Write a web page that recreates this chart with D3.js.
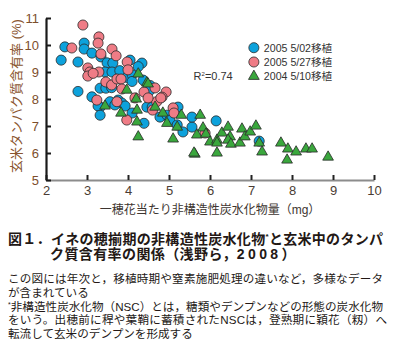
<!DOCTYPE html>
<html>
<head>
<meta charset="utf-8">
<script src="https://cdn.jsdelivr.net/npm/d3@7"></script>
<style>
  body { margin: 0; background: #fff; }
  svg  { display: block; }
  .tick text  { font-family: "Liberation Sans", Arial, sans-serif; font-size: 13px; }
  .y.axis text { fill: #7d4e2c; }
  .x.axis text { fill: #4a3c33; }
  .jp  { font-family: "Liberation Sans", "Noto Sans CJK JP", sans-serif; }
</style>
</head>
<body>
<div id="graph"></div>
<script>

// 
// Data...
// 
var xTicks = [2, 3, 4, 5, 6, 7, 8, 9, 10];
var yTicks = [5, 6, 7, 8, 9, 10, 11];

var seriesNames  = ['2005 5/02移植', '2005 5/27移植', '2004 5/10移植'];
var seriesColors = ['#0da2dc', '#ef7c86', '#3aa73d'];

// [NSC mg per spikelet, protein %]
var may02 = [
    [2.37, 9.44], [2.46, 9.93], [2.78, 9.37], [2.78, 8.28], [2.93, 10.07], [2.93, 9.85],
    [3.12, 9.70], [3.12, 8.08], [3.34, 9.56], [3.49, 9.34], [3.63, 9.33], [3.44, 9.00],
    [3.61, 9.00], [3.32, 8.40], [3.46, 8.40], [3.60, 8.42], [3.97, 8.80], [4.10, 8.90],
    [4.05, 9.44], [4.34, 9.33], [4.25, 9.20], [4.37, 8.70], [4.54, 8.50], [4.54, 8.33],
    [3.32, 7.70], [3.27, 7.74], [3.56, 7.90], [3.76, 7.96], [3.85, 7.85], [3.93, 7.74],
    [4.46, 7.70], [4.59, 7.70], [5.22, 7.70], [3.32, 7.40], [3.68, 7.78], [4.10, 7.48],
    [4.39, 7.10], [4.78, 7.33], [4.95, 7.40], [5.02, 7.22], [5.20, 7.04], [5.34, 6.78],
    [5.56, 6.96], [5.56, 7.33], [6.15, 7.19], [7.20, 6.44], [4.10, 8.65], [3.80, 9.05]
];

var may27 = [
    [2.90, 10.74], [2.63, 9.89], [3.29, 10.30], [3.27, 10.07], [3.34, 9.67], [3.61, 9.85],
    [3.71, 9.60], [3.98, 9.37], [3.02, 9.15], [3.07, 9.00], [3.02, 8.85], [3.29, 9.00],
    [3.15, 8.95], [3.46, 8.63], [3.60, 8.52], [3.73, 8.74], [3.83, 8.74], [3.85, 8.37],
    [4.39, 8.26], [4.66, 8.41], [4.93, 8.26], [4.83, 8.07], [4.70, 7.90], [3.24, 7.96],
    [3.73, 7.90], [5.10, 7.67], [5.12, 7.48], [4.17, 8.04], [3.97, 7.22], [4.49, 8.04],
    [4.80, 8.04], [4.60, 7.59], [5.88, 6.74], [4.00, 9.08]
];

var may10 = [
    [4.25, 8.93], [4.46, 8.60], [3.97, 8.33], [4.20, 8.00], [3.44, 7.74], [3.83, 7.48],
    [4.22, 7.59], [4.22, 7.15], [4.25, 6.60], [4.66, 7.70], [4.85, 7.48], [4.95, 7.10],
    [5.10, 6.52], [5.20, 6.96], [5.30, 7.40], [5.68, 6.67], [5.63, 5.96], [5.76, 7.40],
    [5.83, 6.93], [5.90, 6.70], [6.00, 6.41], [6.17, 6.48], [6.17, 6.37], [6.17, 6.00],
    [6.29, 6.74], [6.44, 6.96], [6.49, 6.60], [6.44, 6.48], [6.51, 6.33], [6.73, 6.37],
    [6.78, 6.89], [6.85, 6.60], [6.98, 6.78], [7.12, 7.00], [7.20, 6.37], [7.27, 6.04],
    [7.73, 6.37], [7.90, 6.15], [7.88, 5.74], [8.10, 6.04], [8.34, 6.15], [8.49, 6.15],
    [8.88, 5.85], [4.49, 8.56], [5.61, 6.00]
];

var r2Text = ['R', '2', '=0.74'];

var xLabel = '一穂花当たり非構造性炭水化物量（mg）';
var yLabel = '玄米タンパク質含有率 (%)';

var captionLine1 = ['図１．イネの穂揃期の非構造性炭水化物', '*', 'と玄米中のタンパ'];
var captionLine2 = ['ク質含有率の関係（浅野ら，', '2008', '）'];

var noteLines = [
    ['', 'この図には年次と，移植時期や窒素施肥処理の違いなど，多様なデータ'],
    ['', 'が含まれている'],
    ['*', '非構造性炭水化物（NSC）とは，糖類やデンプンなどの形態の炭水化物'],
    ['', 'をいう。出穂前に稈や葉鞘に蓄積されたNSCは，登熟期に穎花（籾）へ'],
    ['', '転流して玄米のデンプンを形成する']
];


//
// D3 Stuff...
//
var W = 406, H = 350;

var xScale = d3.scaleLinear ()
               .domain ([2, 10])
               .range ([46, 374]);

var yScale = d3.scaleLinear ()
               .domain ([5, 11])
               .range ([180, 18]);

var svg = d3.select ('div#graph')
            .append ('svg')
            .attr ('width', W)
            .attr ('height', H);

svg.append ('rect')
   .attr ('width', W)
   .attr ('height', H)
   .attr ('fill', '#fff');

// axes (ticks point inward)
var xAxis = d3.axisBottom (xScale)
              .tickValues (xTicks)
              .tickFormat (d3.format ('d'))
              .tickSizeInner (-5)
              .tickSizeOuter (0)
              .tickPadding (6);

var yAxis = d3.axisLeft (yScale)
              .tickValues (yTicks)
              .tickFormat (d3.format ('d'))
              .tickSizeInner (-5)
              .tickSizeOuter (0)
              .tickPadding (7);

var gx = svg.append ('g')
            .attr ('class', 'x axis')
            .attr ('transform', 'translate(0,' + yScale (5) + ')')
            .call (xAxis);

gx.select ('.domain').attr ('stroke', '#8c8c8c').attr ('stroke-width', 2);
gx.selectAll ('.tick line').attr ('stroke', '#222').attr ('stroke-width', 2);

var gy = svg.append ('g')
            .attr ('class', 'y axis')
            .attr ('transform', 'translate(' + xScale (2) + ',0)')
            .call (yAxis);

gy.select ('.domain').attr ('stroke', '#1a1a1a').attr ('stroke-width', 2.2);
gy.selectAll ('.tick line').attr ('stroke', '#1a1a1a').attr ('stroke-width', 2);
gy.selectAll ('.tick text').attr ('dy', '0.36em');

// axis titles
svg.append ('text')
   .attr ('class', 'jp')
   .attr ('transform', 'translate(21,' + 96 + ') rotate(-90)')
   .style ('text-anchor', 'middle')
   .style ('font-size', '13px')
   .attr ('fill', '#8a552e')
   .text (yLabel);

svg.append ('text')
   .attr ('class', 'jp')
   .attr ('x', (xScale (2) + xScale (10)) / 2)
   .attr ('y', 214)
   .style ('text-anchor', 'middle')
   .style ('font-size', '12px')
   .attr ('fill', '#3d3530')
   .text (xLabel);

// points
var circle   = d3.symbol ().type (d3.symbolCircle).size (80);
var triangle = d3.symbol ().type (d3.symbolTriangle).size (50);

var allSeries = [may02, may27, may10];
var shapes    = [circle, circle, triangle];

allSeries.forEach (function (data, i)
{
    svg.append ('g')
       .selectAll ('path')
       .data (data)
       .enter ()
       .append ('path')
       .attr ('transform', function (d) { return 'translate(' + xScale (d[0]) + ',' + yScale (d[1]) + ')'; })
       .attr ('d', shapes[i])
       .attr ('fill', seriesColors[i])
       .attr ('stroke', '#2a2a2a')
       .attr ('stroke-width', 0.8);
});

// legend
var legend = svg.append ('g')
                .attr ('transform', 'translate(' + xScale (7.07) + ',' + yScale (9.9) + ')');

seriesNames.forEach (function (name, i)
{
    legend.append ('path')
          .attr ('transform', 'translate(0,' + (i * 14.3) + ')')
          .attr ('d', shapes[i])
          .attr ('fill', seriesColors[i])
          .attr ('stroke', '#2a2a2a')
          .attr ('stroke-width', 0.8);

    legend.append ('text')
          .attr ('class', 'jp')
          .attr ('x', 10)
          .attr ('y', i * 14.3 + 4)
          .style ('font-size', '10.6px')
          .attr ('fill', '#333')
          .text (name);
});

// R squared
var r2 = svg.append ('text')
            .attr ('class', 'jp')
            .attr ('x', xScale (5.6))
            .attr ('y', yScale (9.9) + 4 + 2 * 14.3)
            .style ('font-size', '11px')
            .attr ('fill', '#333');

r2.append ('tspan').text (r2Text[0]);
r2.append ('tspan').attr ('dy', -4).style ('font-size', '6px').text (r2Text[1]);
r2.append ('tspan').attr ('dy', 4).text (r2Text[2]);

// caption
var cap1 = svg.append ('text')
              .attr ('class', 'jp')
              .attr ('x', 8)
              .attr ('y', 244)
              .attr ('textLength', 375)
              .attr ('lengthAdjust', 'spacing')
              .style ('font-size', '14px')
              .style ('font-weight', 'bold')
              .attr ('fill', '#231815');

cap1.append ('tspan').text (captionLine1[0]);
cap1.append ('tspan').attr ('dy', -5).style ('font-size', '8px').text (captionLine1[1]);
cap1.append ('tspan').attr ('dy', 5).text (captionLine1[2]);

var cap2 = svg.append ('text')
              .attr ('class', 'jp')
              .attr ('x', 50)
              .attr ('y', 259)
              .style ('font-size', '14px')
              .style ('font-weight', 'bold')
              .style ('letter-spacing', '0.4px')
              .attr ('fill', '#231815');

cap2.append ('tspan').text (captionLine2[0]);
cap2.append ('tspan').style ('letter-spacing', '3.4px').text (captionLine2[1]);
cap2.append ('tspan').text (captionLine2[2]);

// notes
var noteY   = [283, 297, 310.5, 324, 338];
var noteLen = [375, 0, 375, 379, 0];

noteLines.forEach (function (parts, i)
{
    var t = svg.append ('text')
               .attr ('class', 'jp')
               .attr ('x', 8)
               .attr ('y', noteY[i])
               .style ('font-size', '11.6px')
               .attr ('fill', '#231815');

    if (noteLen[i] > 0)
    {
        t.attr ('textLength', noteLen[i]).attr ('lengthAdjust', 'spacing');
    }

    if (parts[0] !== '')
    {
        t.append ('tspan').attr ('dy', -4).style ('font-size', '7px').text (parts[0]);
        t.append ('tspan').attr ('dy', 4).text (parts[1]);
    }
    else
    {
        t.append ('tspan').text (parts[1]);
    }
});

</script>
</body>
</html>
